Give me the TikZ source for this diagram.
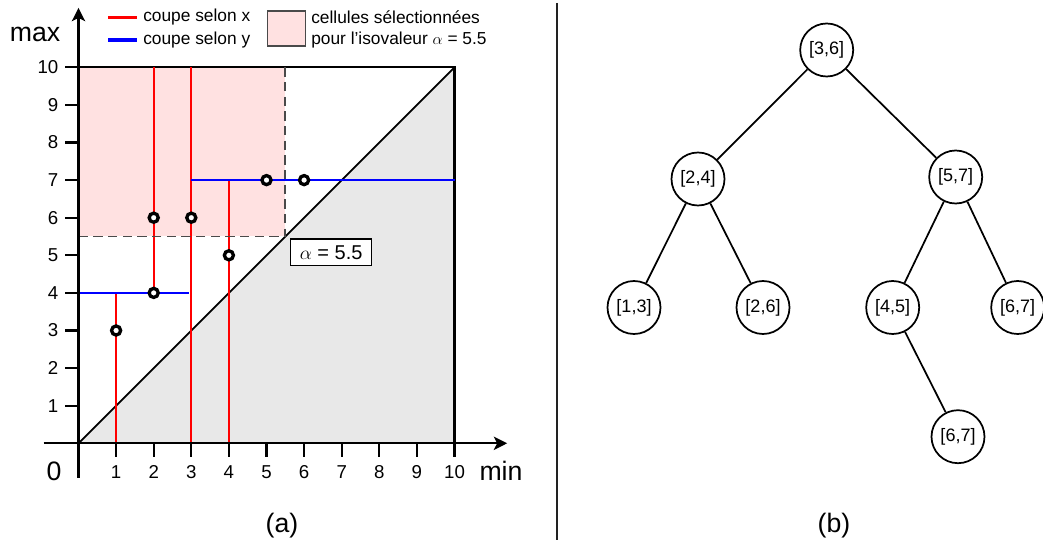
\documentclass[tikz,border=0pt]{standalone}
\usepackage{fontspec}
\setmainfont{Liberation Sans}
\usetikzlibrary{arrows.meta}
\definecolor{pinkfill}{HTML}{FFE1E1}
\definecolor{grayfill}{HTML}{E8E8E8}
\definecolor{dashgray}{HTML}{4A4A4A}
\definecolor{divgray}{HTML}{222222}
\begin{document}
\begin{tikzpicture}[x=0.75pt,y=-0.75pt,
  treenode/.style={circle,draw,line width=1.3pt,minimum size=39.75pt,inner sep=0pt,font=\fontsize{13.5}{16}\selectfont},
  edge/.style={line width=1.3pt},
  axis/.style={line width=1.6pt,-{Stealth[length=10pt,width=10pt,inset=2.5pt]}},
  tick/.style={line width=1.6pt},
  xcut/.style={draw=red,line width=1.5pt},
  ycut/.style={draw=blue,line width=1.5pt},
  selbound/.style={dashgray,line width=1.4pt,dash pattern=on 7pt off 4pt},
  pt/.style={circle,draw,line width=2.5pt,fill=white,minimum size=6.8pt,inner sep=0pt},
  ticklab/.style={inner sep=0pt,font=\fontsize{14}{16}\selectfont},
  biglab/.style={inner sep=0pt,font=\fontsize{20}{23}\selectfont},
  legtext/.style={inner sep=0pt,font=\fontsize{13}{15}\selectfont,anchor=base west}]
\useasboundingbox (0,0) rectangle (1043,545);

% ---------------- plot (a) ----------------
\begin{scope}[shift={(78.5,443.3)},x=28.2pt,y=28.2pt]
  \fill[grayfill] (0,0) -- (10,0) -- (10,10) -- cycle;
  \fill[pinkfill] (0,5.5) rectangle (5.5,10);
  \draw[line width=1.6pt] (0,10) -- (10,10) -- (10,0);
  \draw[line width=1.3pt] (0,0) -- (10,10);
  % cuts along x
  \draw[xcut] (1,0) -- (1,4);
  \draw[xcut] (2,4) -- (2,10);
  \draw[xcut] (3,0) -- (3,10);
  \draw[xcut] (4,0) -- (4,7);
  % cuts along y
  \draw[ycut] (0,4) -- (2.93,4);
  \draw[ycut] (3,7) -- (10,7);
  % selection boundary
  \draw[selbound] (5.5,10) -- (5.5,5.5) -- (0,5.5);
  % axes
  \draw[axis] (-0.93,0) -- (11.4,0);
  \draw[axis] (0,-0.92) -- (0,11.58);
  \foreach \i in {1,...,10}{
    \draw[tick] (\i,0) -- (\i,-0.36);
    \node[ticklab] (xl\i) at (\i,-0.76) {\i};
    \draw[tick] (0,\i) -- (-0.35,\i);
    \node[ticklab,anchor=east] (yl\i) at (-0.53,\i) {\i};
  }
  % points
  \node[pt] (p1) at (1,3) {};
  \node[pt] (p2) at (2,4) {};
  \node[pt] (p3) at (2,6) {};
  \node[pt] (p4) at (3,6) {};
  \node[pt] (p5) at (4,5) {};
  \node[pt] (p6) at (5,7) {};
  \node[pt] (p7) at (6,7) {};
  % iso value label
  \node[draw,line width=1pt,fill=white,minimum width=60.75pt,minimum height=20pt,inner sep=2pt,
        font=\fontsize{15}{17}\selectfont] (alpha) at (6.72,5.08) {$\alpha$ = 5.5};
\end{scope}

\node[biglab] (maxlab) at (35,34) {max};
\node[biglab] (zerolab) at (54,471) {0};
\node[biglab] (minlab) at (501,470.5) {min};
\node[biglab] (alab) at (282,526) {(a)};

% legend
\coordinate (lr1) at (108,17.5);
\coordinate (lr2) at (137,17.5);
\coordinate (lb1) at (108,40);
\coordinate (lb2) at (137,40);
\draw[red,line width=2.4pt] (lr1) -- (lr2);
\draw[blue,line width=2.4pt] (lb1) -- (lb2);
\node[legtext] (legx) at (143,22) {coupe selon x};
\node[legtext] (legy) at (143,44.5) {coupe selon y};
\node[draw=dashgray,fill=pinkfill,line width=1.3pt,minimum width=28.5pt,minimum height=26pt,inner sep=0pt] (legbox) at (286.5,28.5) {};
\node[legtext] (legsel1) at (311,23.5) {cellules sélectionnées};
\node[legtext] (legsel2) at (311,44.5) {pour l’isovaleur $\alpha$ = 5.5};

% divider
\coordinate (d1) at (556.7,3);
\coordinate (d2) at (556.7,540);
\draw[divgray,line width=1.8pt] (d1) -- (d2);

% ---------------- tree (b) ----------------
\node[treenode] (n36) at (826.7,50) {[3,6]};
\node[treenode] (n24) at (698,179) {[2,4]};
\node[treenode] (n57) at (955.7,177) {[5,7]};
\node[treenode] (n13) at (634,307.5) {[1,3]};
\node[treenode] (n26) at (763,307.5) {[2,6]};
\node[treenode] (n45) at (892.7,307.5) {[4,5]};
\node[treenode] (n67a) at (1017.7,307.5) {[6,7]};
\node[treenode] (n67b) at (958,436.7) {[6,7]};
\draw[edge] (n36) -- (n24);
\draw[edge] (n36) -- (n57);
\draw[edge] (n24) -- (n13);
\draw[edge] (n24) -- (n26);
\draw[edge] (n57) -- (n45);
\draw[edge] (n57) -- (n67a);
\draw[edge] (n45) -- (n67b);
\node[biglab] (blab) at (834,526) {(b)};
\end{tikzpicture}
\end{document}
